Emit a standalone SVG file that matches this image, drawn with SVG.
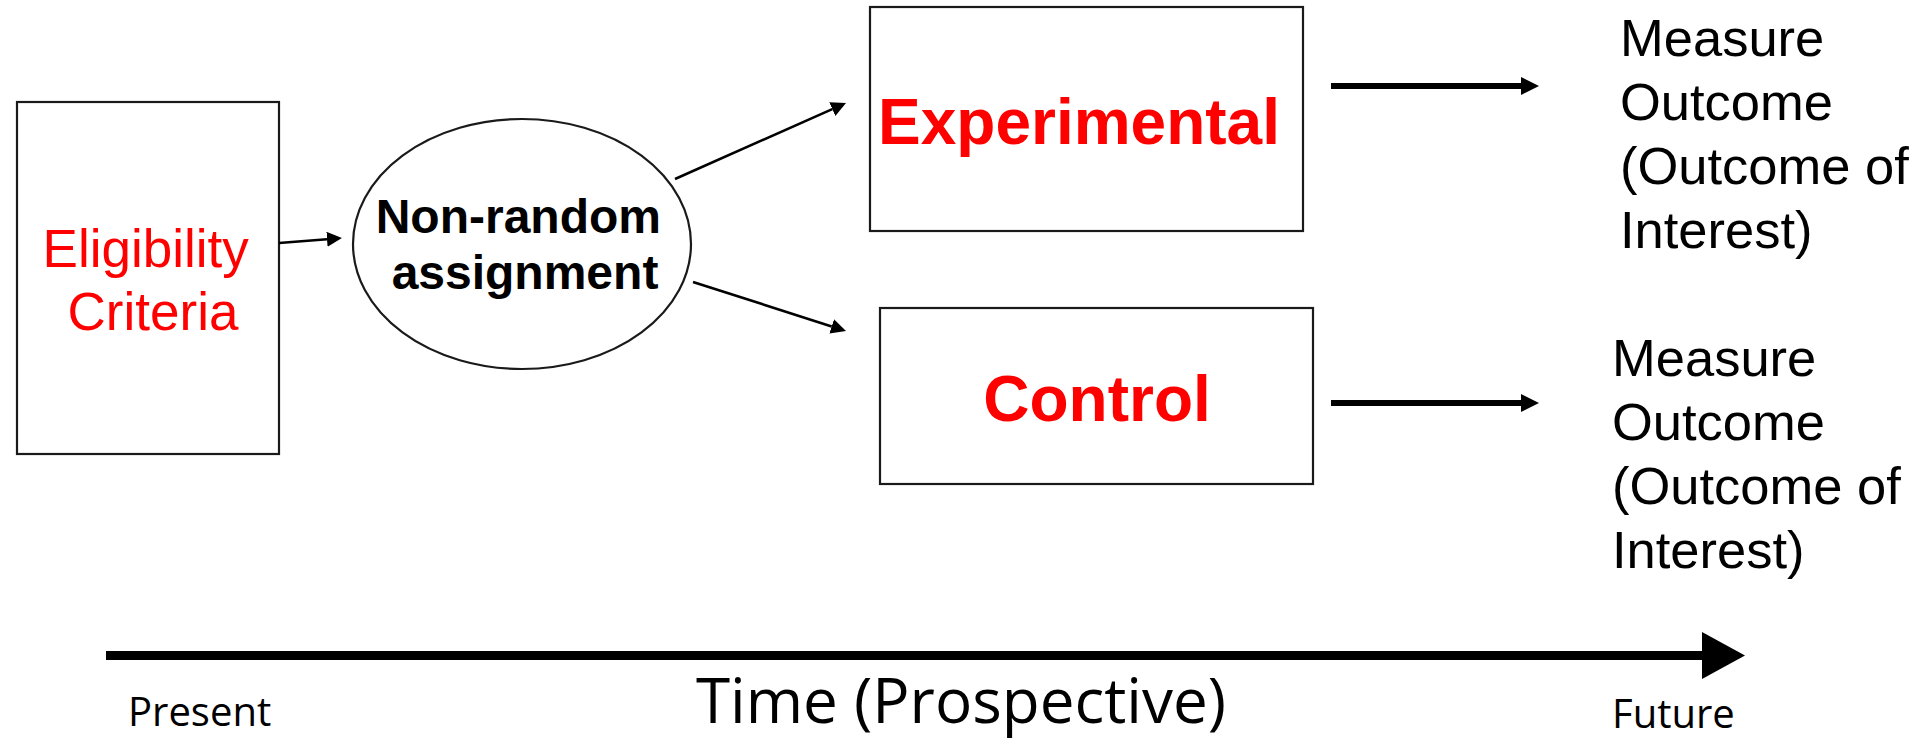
<svg xmlns="http://www.w3.org/2000/svg" width="1926" height="739" viewBox="0 0 1926 739">
  <style>
    .box { fill: #ffffff; stroke: #1a1a1a; stroke-width: 2.2; }
    .red { fill: #ff0000; font-family: "Liberation Sans", Arial, sans-serif; }
    .blk { fill: #000000; font-family: "Liberation Sans", Arial, sans-serif; }
    .bold { font-weight: bold; }
    .axis { fill: #000000; font-family: "Open Sans", "Noto Sans", sans-serif; }
    .thin { stroke: #000000; stroke-width: 2.6; fill: none; }
    .thick { stroke: #000000; stroke-width: 6; fill: none; }
  </style>
  <defs>
    <marker id="headSmall" markerUnits="userSpaceOnUse" markerWidth="15" markerHeight="15" refX="0" refY="7.5" orient="auto">
      <path d="M0,0 L15,7.5 L0,15 z" fill="#000000"/>
    </marker>
    <marker id="headMid" markerUnits="userSpaceOnUse" markerWidth="18" markerHeight="18" refX="0" refY="9" orient="auto">
      <path d="M0,0 L18,9 L0,18 z" fill="#000000"/>
    </marker>
  </defs>

  <rect width="1926" height="739" fill="#ffffff"/>

  <g id="eligibility">
    <rect class="box" x="17" y="102" width="262" height="352"/>
    <text class="red" font-size="53" text-anchor="middle">
      <tspan x="153" y="267">Eligibility</tspan>
      <tspan x="153" y="330">Criteria</tspan>
    </text>
  </g>

  <g id="assignment">
    <ellipse class="box" cx="522" cy="244" rx="169" ry="125"/>
    <text class="blk bold" font-size="48" text-anchor="middle">
      <tspan x="525" y="233">Non-random</tspan>
      <tspan x="525" y="289">assignment</tspan>
    </text>
  </g>

  <g id="experimental">
    <rect class="box" x="870" y="7" width="433" height="224"/>
    <text class="red bold" font-size="64" text-anchor="middle" x="1079" y="144">Experimental</text>
  </g>

  <g id="control">
    <rect class="box" x="880" y="308" width="433" height="176"/>
    <text class="red bold" font-size="64" text-anchor="middle" x="1097" y="421">Control</text>
  </g>

  <g id="outcome-experimental">
    <text class="blk" font-size="52.5">
      <tspan x="1620" y="56">Measure</tspan>
      <tspan x="1620" y="120">Outcome</tspan>
      <tspan x="1620" y="184">(Outcome of</tspan>
      <tspan x="1620" y="248">Interest)</tspan>
    </text>
  </g>

  <g id="outcome-control">
    <text class="blk" font-size="52.5">
      <tspan x="1612" y="376">Measure</tspan>
      <tspan x="1612" y="440">Outcome</tspan>
      <tspan x="1612" y="504">(Outcome of</tspan>
      <tspan x="1612" y="568">Interest)</tspan>
    </text>
  </g>

  <g id="timeline">
    <line x1="106" y1="655.5" x2="1703" y2="655.5" stroke="#000000" stroke-width="9"/>
    <polygon points="1702,632 1745,655.5 1702,679" fill="#000000"/>
    <text class="axis" font-size="40" x="128" y="726">Present</text>
    <text class="axis" font-size="62" text-anchor="middle" x="961" y="723">Time (Prospective)</text>
    <text class="axis" font-size="40" x="1612" y="728">Future</text>
  </g>

  <g id="connectors">
    <line class="thin" x1="279" y1="243" x2="327" y2="239.2" marker-end="url(#headSmall)"/>
    <line class="thin" x1="675" y1="179" x2="832.3" y2="109.1" marker-end="url(#headSmall)"/>
    <line class="thin" x1="693" y1="282" x2="831.7" y2="326.4" marker-end="url(#headSmall)"/>
    <line class="thick" x1="1331" y1="86" x2="1521" y2="86" marker-end="url(#headMid)"/>
    <line class="thick" x1="1331" y1="403" x2="1521" y2="403" marker-end="url(#headMid)"/>
  </g>
</svg>
